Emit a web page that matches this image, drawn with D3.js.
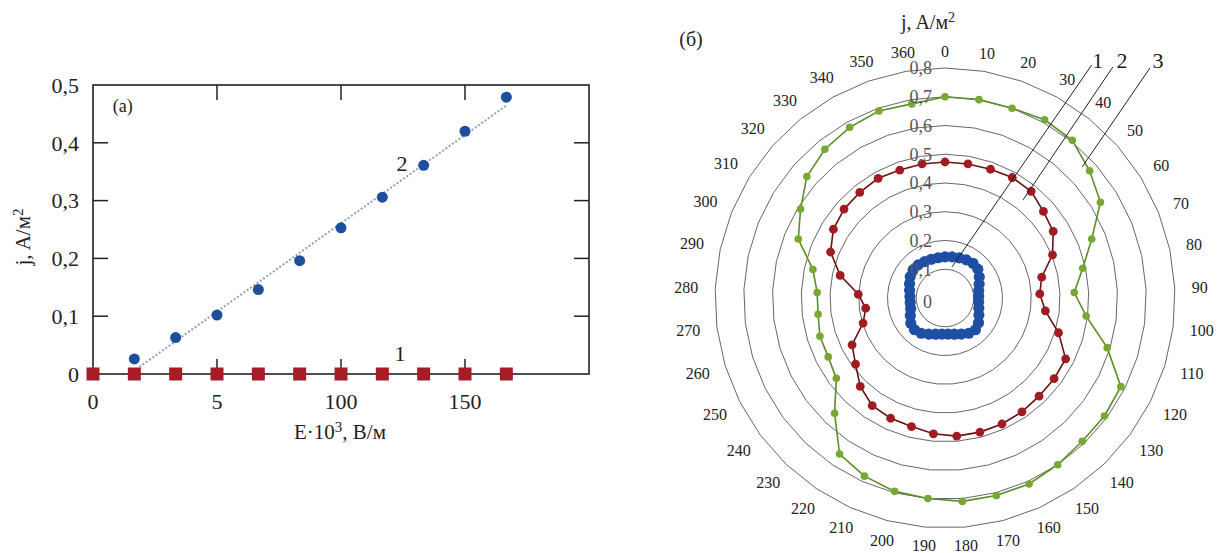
<!DOCTYPE html>
<html lang="ru">
<head>
<meta charset="UTF-8">
<title>j(E) и полярная диаграмма</title>
<script src="https://d3js.org/d3.v7.min.js"></script>
<style>
    body { margin: 0; background: #fff; }
    svg { display: block; }
    svg text { font-family: "Liberation Serif", "Times New Roman", "DejaVu Serif", serif; }
</style>
</head>
<body>
<svg width="1219" height="553"></svg>
<script>
// ---- panel (а): j vs E ----
const eValues = [0, 16.67, 33.33, 50, 66.67, 83.33, 100, 116.67, 133.33, 150, 166.67];
const series1 = [0, 0, 0, 0, 0, 0, 0, 0, 0, 0, 0];
const series2E = [16.67, 33.33, 50, 66.67, 83.33, 100, 116.67, 133.33, 150, 166.67];
const series2 = [0.026, 0.063, 0.102, 0.146, 0.196, 0.253, 0.306, 0.361, 0.42, 0.479];
const xTicks = [0, 50, 100, 150];
const xTickLabels = ["0", "5", "100", "150"];
const yTicks = [0, 0.1, 0.2, 0.3, 0.4, 0.5];

// ---- panel (б): polar, 37 categories 0..360 ----
const angleLabels = d3.range(0, 361, 10).map(String);
const polar1 = [0.143, 0.145, 0.148, 0.152, 0.155, 0.152, 0.14, 0.128, 0.12, 0.117, 0.118, 0.123, 0.132,
    0.145, 0.153, 0.148, 0.138, 0.13, 0.126, 0.126, 0.13, 0.138, 0.148, 0.153, 0.148, 0.135, 0.125,
    0.122, 0.122, 0.126, 0.133, 0.142, 0.148, 0.148, 0.145, 0.143, 0.142];
const polar2 = [0.473, 0.473, 0.475, 0.48, 0.477, 0.456, 0.442, 0.403, 0.344, 0.33, 0.352, 0.413, 0.47,
    0.472, 0.473, 0.478, 0.481, 0.482, 0.482, 0.474, 0.462, 0.459, 0.452, 0.426, 0.387, 0.362, 0.298,
    0.278, 0.302, 0.373, 0.429, 0.456, 0.468, 0.472, 0.477, 0.472, 0.473];
const polar3 = [0.70, 0.70, 0.70, 0.71, 0.705, 0.67, 0.635, 0.55, 0.49, 0.45, 0.495, 0.59, 0.685,
    0.69, 0.69, 0.70, 0.71, 0.71, 0.71, 0.70, 0.695, 0.68, 0.655, 0.555, 0.47, 0.455, 0.455,
    0.445, 0.445, 0.47, 0.55, 0.59, 0.64, 0.665, 0.68, 0.69, 0.685];
const ringValues = [0.1, 0.2, 0.3, 0.4, 0.5, 0.6, 0.7, 0.8];
const ringLabels = ["0", "0,1", "0,2", "0,3", "0,4", "0,5", "0,6", "0,7", "0,8"];
// leader lines: [angle deg, value] from label end to curve
const leaderNames = ["1", "2", "3"];
const leaderStart = [[32.2, 0.958], [36.0, 0.993], [41.7, 1.072]];
const leaderEnd = [[12.7, 0.111], [38.5, 0.436], [46.3, 0.66]];
const leaderText = [[32.7, 0.984], [36.6, 1.032], [41.8, 1.111]];

const svg = d3.select("svg");
const fmt = v => String(v).replace(".", ",");

// ================= left chart =================
const x = d3.scaleLinear().domain([0, 200]).range([93, 589]);
const y = d3.scaleLinear().domain([0, 0.5]).range([374, 85]);
const left = svg.append("g");

left.append("rect")
    .attr("x", x(0)).attr("y", y(0.5))
    .attr("width", x(200) - x(0)).attr("height", y(0) - y(0.5))
    .attr("fill", "none").attr("stroke", "#222").attr("stroke-width", 1.6);

// inward ticks on all four sides
const tl = 15;
left.selectAll(".xb").data(xTicks.slice(1)).join("line")
    .attr("x1", d => x(d)).attr("x2", d => x(d))
    .attr("y1", y(0)).attr("y2", y(0) - tl)
    .attr("stroke", "#222").attr("stroke-width", 1.5);
left.selectAll(".xt").data(xTicks.slice(1)).join("line")
    .attr("x1", d => x(d)).attr("x2", d => x(d))
    .attr("y1", y(0.5)).attr("y2", y(0.5) + tl)
    .attr("stroke", "#222").attr("stroke-width", 1.5);
left.selectAll(".yl").data(yTicks.slice(1, -1)).join("line")
    .attr("x1", x(0)).attr("x2", x(0) + tl)
    .attr("y1", d => y(d)).attr("y2", d => y(d))
    .attr("stroke", "#222").attr("stroke-width", 1.5);
left.selectAll(".yr").data(yTicks.slice(1, -1)).join("line")
    .attr("x1", x(200)).attr("x2", x(200) - tl)
    .attr("y1", d => y(d)).attr("y2", d => y(d))
    .attr("stroke", "#222").attr("stroke-width", 1.5);

left.selectAll(".ylab").data(yTicks).join("text")
    .attr("x", 79).attr("y", d => y(d))
    .attr("dy", "0.35em").attr("text-anchor", "end")
    .attr("font-size", 22).attr("fill", "#222")
    .text(d => fmt(d));
left.selectAll(".xlab").data(xTicks).join("text")
    .attr("x", d => x(d)).attr("y", 409)
    .attr("text-anchor", "middle")
    .attr("font-size", 22).attr("fill", "#222")
    .text((d, i) => xTickLabels[i]);

left.append("text")
    .attr("transform", "translate(30,237) rotate(-90)")
    .attr("text-anchor", "middle").attr("font-size", 21).attr("fill", "#222")
    .html('j, A/м<tspan dy="-7" font-size="15">2</tspan>');
left.append("text")
    .attr("x", 340).attr("y", 439)
    .attr("text-anchor", "middle").attr("font-size", 21).attr("fill", "#222")
    .html('E·10<tspan dy="-7" font-size="15">3</tspan><tspan dy="7">, В/м</tspan>');

// trend line (least squares) for series 2
const mx = d3.mean(series2E), my = d3.mean(series2);
const slope = d3.sum(series2E, (e, i) => (e - mx) * (series2[i] - my)) / d3.sum(series2E, e => (e - mx) ** 2);
const icpt = my - slope * mx;
const x0 = -icpt / slope, x1 = d3.max(series2E);
left.append("line")
    .attr("x1", x(x0)).attr("y1", y(0))
    .attr("x2", x(x1)).attr("y2", y(icpt + slope * x1))
    .attr("stroke", "#8ea2ba").attr("stroke-width", 2).attr("stroke-dasharray", "2,2");

left.selectAll(".s1").data(eValues).join("rect")
    .attr("x", d => x(d) - 6.5).attr("y", (d, i) => y(series1[i]) - 6.5)
    .attr("width", 13).attr("height", 13).attr("fill", "#a81c28");
left.selectAll(".s2").data(series2E).join("circle")
    .attr("cx", d => x(d)).attr("cy", (d, i) => y(series2[i]))
    .attr("r", 5.5).attr("fill", "#1f4f9c");

left.append("text").attr("x", x(8)).attr("y", y(0.465)).attr("dy", "0.35em")
    .attr("font-size", 18).attr("fill", "#222").text("(а)");
left.append("text").attr("x", x(124.6)).attr("y", y(0.365)).attr("dy", "0.35em")
    .attr("text-anchor", "middle").attr("font-size", 22).attr("fill", "#222").text("2");
left.append("text").attr("x", x(123.8)).attr("y", y(0.035)).attr("dy", "0.35em")
    .attr("text-anchor", "middle").attr("font-size", 22).attr("fill", "#222").text("1");

// ================= polar chart =================
const cx = 945, cy = 298;
const r = d3.scaleLinear().domain([0, 0.8]).range([0, 230]);
const n = angleLabels.length;
const ang = d3.scaleLinear().domain([0, n]).range([0, 2 * Math.PI]);
const pol = svg.append("g").attr("transform", `translate(${cx},${cy})`);
const pt = (a, v) => [r(v) * Math.sin(a), -r(v) * Math.cos(a)];
const deg = d => d * Math.PI / 180;

const radial = d3.lineRadial().angle((d, i) => ang(i)).radius(d => r(d)).curve(d3.curveLinearClosed);

pol.selectAll(".ring").data(ringValues).join("path")
    .attr("d", v => radial(d3.range(n).map(() => v)))
    .attr("fill", "none").attr("stroke", "#666").attr("stroke-width", 1);

const series = [
    { vals: polar3, line: "#5d8d28", fill: "#77a833", mr: 3.8, lw: 1.6 },
    { vals: polar2, line: "#6a1212", fill: "#a11c22", mr: 4.4, lw: 1.6 },
    { vals: polar1, line: "#1b479c", fill: "#1f4fa5", mr: 5.6, lw: 5 }
];
series.forEach(s => {
    pol.append("path").attr("d", radial(s.vals))
        .attr("fill", "none").attr("stroke", s.line).attr("stroke-width", s.lw);
    pol.selectAll(null).data(s.vals).join("circle")
        .attr("cx", (d, i) => pt(ang(i), d)[0])
        .attr("cy", (d, i) => pt(ang(i), d)[1])
        .attr("r", s.mr).attr("fill", s.fill);
});

// radial value labels
pol.selectAll(".rlab").data(ringLabels).join("text")
    .attr("x", -13).attr("y", (d, i) => -r(i / 10) + (i === 0 ? 4 : 0))
    .attr("dy", "0.35em").attr("text-anchor", "end")
    .attr("font-size", 18).attr("fill", "#555")
    .text(d => d);

// angular labels
pol.selectAll(".alab").data(angleLabels).join("text")
    .attr("text-anchor", "middle").attr("dy", "0.35em")
    .attr("font-size", 16).attr("fill", "#222")
    .text(d => d)
    .each(function (d, i) {
        const a = ang(i);
        const R = 247 + this.getComputedTextLength() / 2 * Math.abs(Math.sin(a));
        d3.select(this).attr("x", R * Math.sin(a)).attr("y", -R * Math.cos(a));
    });

// leader lines
pol.selectAll(".lead").data(leaderNames).join("line")
    .attr("x1", (d, i) => pt(deg(leaderStart[i][0]), leaderStart[i][1])[0])
    .attr("y1", (d, i) => pt(deg(leaderStart[i][0]), leaderStart[i][1])[1])
    .attr("x2", (d, i) => pt(deg(leaderEnd[i][0]), leaderEnd[i][1])[0])
    .attr("y2", (d, i) => pt(deg(leaderEnd[i][0]), leaderEnd[i][1])[1])
    .attr("stroke", "#222").attr("stroke-width", 1);
pol.selectAll(".leadtxt").data(leaderNames).join("text")
    .attr("x", (d, i) => pt(deg(leaderText[i][0]), leaderText[i][1])[0])
    .attr("y", (d, i) => pt(deg(leaderText[i][0]), leaderText[i][1])[1])
    .attr("dy", "0.35em").attr("text-anchor", "middle")
    .attr("font-size", 22).attr("fill", "#222")
    .text(d => d);

svg.append("text").attr("x", 928).attr("y", 29)
    .attr("text-anchor", "middle").attr("font-size", 20).attr("fill", "#222")
    .html('j, A/м<tspan dy="-7" font-size="14">2</tspan>');
svg.append("text").attr("x", 691).attr("y", 46)
    .attr("text-anchor", "middle").attr("font-size", 20).attr("fill", "#222")
    .text("(б)");
</script>
</body>
</html>
